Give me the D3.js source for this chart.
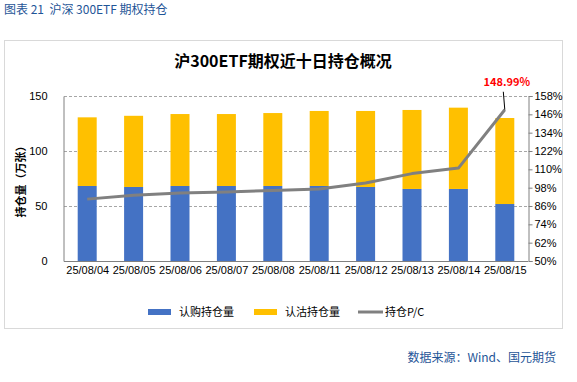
<!DOCTYPE html>
<html><head><meta charset="utf-8">
<script src="https://cdn.jsdelivr.net/npm/d3@7"></script>
<style>body{margin:0;background:#fff;}svg{display:block;}</style>
</head><body>
<script>
const categories = ["25/08/04","25/08/05","25/08/06","25/08/07","25/08/08","25/08/11","25/08/12","25/08/13","25/08/14","25/08/15"];
const callOI = [68.2, 67.3, 68.2, 68.2, 68.2, 68.2, 67.3, 65.5, 65.5, 51.8];
const putOI  = [62.4, 64.7, 65.4, 65.4, 66.3, 68.2, 69.1, 71.8, 73.9, 78.2];
const pcRatio = [90.5, 93.0, 94.5, 95.2, 96.2, 97.1, 101.0, 107.2, 110.8, 148.99];
const leftTicks = [0, 50, 100, 150];
const rightTicks = [50, 62, 74, 86, 98, 110, 122, 134, 146, 158];
const seriesNames = ["认购持仓量", "认沽持仓量", "持仓P/C"];

const W = 577, H = 382;
const svg = d3.select("body").append("svg").attr("width", W).attr("height", H);
const cjk = "'Noto Sans CJK SC', 'Noto Sans', sans-serif";
const num = "'Liberation Sans', Arial, sans-serif";

// header
svg.append("text").attr("x", 4).attr("y", 14).attr("font-family", cjk).attr("font-size", 12)
  .attr("fill", "#1f5597").style("white-space", "pre").text("图表 21  沪深 300ETF 期权持仓");
// frame
svg.append("rect").attr("x", 4.5).attr("y", 40.5).attr("width", 558).attr("height", 288)
  .attr("fill", "#fff").attr("stroke", "#d9d9d9");
// footer
svg.append("text").attr("x", 556).attr("y", 362).attr("text-anchor", "end").attr("font-family", cjk)
  .attr("font-size", 12).attr("fill", "#1f5597").text("数据来源：Wind、国元期货");
// title
svg.append("text").attr("x", 283).attr("y", 67).attr("text-anchor", "middle").attr("font-family", cjk)
  .attr("font-size", 16).attr("font-weight", "bold").attr("fill", "#000").text("沪300ETF期权近十日持仓概况");

const x0 = 64, x1 = 528, yTop = 96, yBot = 261;
const xc = d3.scalePoint().domain(categories).range([x0, x1]).padding(0.5);
const yL = d3.scaleLinear().domain([0, 150]).range([yBot, yTop]);
const yR = d3.scaleLinear().domain([50, 158]).range([yBot, yTop]);

// gridlines
svg.append("g").selectAll("line").data(leftTicks.filter(d => d > 0)).join("line")
  .attr("x1", x0).attr("x2", x1).attr("y1", d => Math.round(yL(d)) + 0.5).attr("y2", d => Math.round(yL(d)) + 0.5)
  .attr("stroke", "#a6a6a6").attr("stroke-dasharray", "3,2");

// bars
const bw = 19;
svg.append("g").selectAll("rect").data(categories).join("rect")
  .attr("x", d => xc(d) - bw / 2).attr("width", bw)
  .attr("y", (d, i) => yL(callOI[i])).attr("height", (d, i) => yBot - yL(callOI[i]))
  .attr("fill", "#4472c4");
svg.append("g").selectAll("rect").data(categories).join("rect")
  .attr("x", d => xc(d) - bw / 2).attr("width", bw)
  .attr("y", (d, i) => yL(callOI[i] + putOI[i])).attr("height", (d, i) => yL(callOI[i]) - yL(callOI[i] + putOI[i]))
  .attr("fill", "#ffc000");

// axes
const axL = svg.append("g").attr("transform", `translate(${x0 - 0.5},0)`)
  .call(d3.axisLeft(yL).tickValues(leftTicks).tickSize(0).tickPadding(16));
const axR = svg.append("g").attr("transform", `translate(${x1 + 0.5},0)`)
  .call(d3.axisRight(yR).tickValues(rightTicks).tickSize(4).tickPadding(2).tickFormat(d => d + "%"));
const axB = svg.append("g").attr("transform", `translate(0,${yBot + 0.5})`)
  .call(d3.axisBottom(xc).tickSize(0).tickPadding(5));
[axL, axR, axB].forEach(a => {
  a.select(".domain").attr("stroke", "#808080");
  a.selectAll(".tick line").attr("stroke", "#808080");
  a.selectAll("text").attr("font-family", num).attr("font-size", 11).attr("fill", "#000");
});
axB.select(".domain").attr("d", `M${x0},0H${x1}`);

// line
const line = d3.line().x((d, i) => xc(categories[i])).y(d => yR(d));
svg.append("path").datum(pcRatio).attr("d", line).attr("fill", "none")
  .attr("stroke", "#808080").attr("stroke-width", 3).attr("stroke-linejoin", "round");

// annotation
const lastX = xc(categories[9]), lastY = yR(pcRatio[9]);
svg.append("line").attr("x1", lastX).attr("y1", lastY).attr("x2", lastX - 1.5).attr("y2", lastY - 18)
  .attr("stroke", "#000").attr("stroke-width", 1);
svg.append("text").attr("x", lastX + 2).attr("y", lastY - 24).attr("text-anchor", "middle")
  .attr("font-family", cjk).attr("font-size", 11).attr("font-weight", "bold").attr("fill", "#ff0000")
  .text(pcRatio[9].toFixed(2) + "%");

// y-axis title
svg.append("text").attr("transform", "translate(25,179) rotate(-90)").attr("text-anchor", "middle")
  .attr("font-family", cjk).attr("font-size", 11).attr("font-weight", "bold").attr("fill", "#000")
  .text("持仓量（万张）");

// legend
const ly = 312;
const lg = svg.append("g");
lg.append("rect").attr("x", 148).attr("y", ly - 3).attr("width", 23).attr("height", 6).attr("fill", "#4472c4");
lg.append("text").attr("x", 179).attr("y", ly + 4).text(seriesNames[0]);
lg.append("rect").attr("x", 254).attr("y", ly - 3).attr("width", 23).attr("height", 6).attr("fill", "#ffc000");
lg.append("text").attr("x", 285).attr("y", ly + 4).text(seriesNames[1]);
lg.append("line").attr("x1", 358).attr("x2", 383).attr("y1", ly).attr("y2", ly).attr("stroke", "#808080").attr("stroke-width", 3);
lg.append("text").attr("x", 385).attr("y", ly + 4).text(seriesNames[2]);
lg.selectAll("text").attr("font-family", cjk).attr("font-size", 11).attr("fill", "#000");
</script>
</body></html>
